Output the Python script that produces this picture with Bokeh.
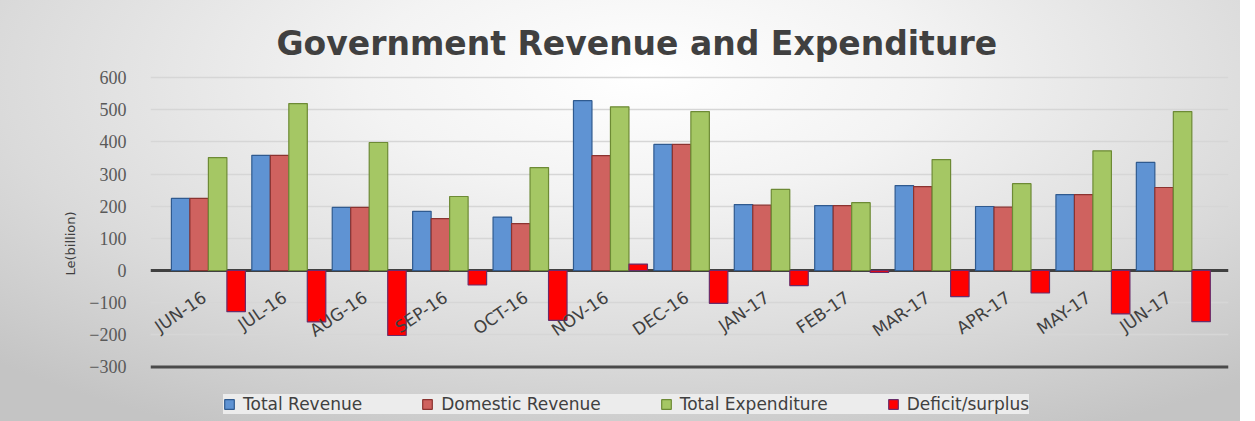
from bokeh.plotting import figure
from bokeh.models import ColumnDataSource, FixedTicker, Span, Legend, LegendItem, Range1d
from bokeh.transform import dodge
from bokeh.core.properties import value
from bokeh.embed import file_html
from bokeh.resources import INLINE

# ---- data ----
months = ["JUN-16", "JUL-16", "AUG-16", "SEP-16", "OCT-16", "NOV-16", "DEC-16",
          "JAN-17", "FEB-17", "MAR-17", "APR-17", "MAY-17", "JUN-17"]
total_revenue = [224, 358, 196, 184, 166, 528, 392, 205, 202, 264, 199, 236, 336]
domestic_revenue = [224, 358, 196, 161, 146, 357, 392, 203, 202, 261, 197, 236, 258]
total_expenditure = [351, 519, 398, 230, 320, 509, 494, 252, 211, 345, 270, 372, 494]
deficit_surplus = [-128, -160, -202, -45, -155, 20, -102, -47, -6, -81, -70, -135, -159]
series_names = ["Total Revenue", "Domestic Revenue", "Total Expenditure", "Deficit/surplus"]
y_ticks = [-300, -200, -100, 0, 100, 200, 300, 400, 500, 600]
grid_ticks = [-200, -100, 100, 200, 300, 400, 500, 600]

src = ColumnDataSource(dict(
    x=list(range(len(months))), month=months,
    tr=total_revenue, dr=domestic_revenue, te=total_expenditure, ds=deficit_surplus,
))

W, H = 1240, 421
p = figure(width=W, height=H, output_backend="svg", toolbar_location=None,
           x_range=Range1d(-0.72, 12.686), y_range=Range1d(-453.9, 621.8),
           min_border_left=150, min_border_right=12, min_border_top=70, min_border_bottom=5)

p.styles = {"background": "radial-gradient(ellipse 75% 95% at 52% 18%, #ffffff 0%, #f3f3f3 30%, #dadada 70%, #c4c4c4 100%)"}
p.border_fill_color = None
p.background_fill_color = None
p.outline_line_color = None

# title
p.title.text = "Government Revenue and Expenditure"
p.title.text_font = "DejaVu Sans"
p.title.text_font_size = "33px"
p.title.text_font_style = "bold"
p.title.text_color = "#404040"
p.title.align = "left"
p.title.offset = 126
p.title.standoff = 16

# axes
p.xaxis.visible = False
p.xgrid.visible = False
yax = p.yaxis[0]
yax.ticker = FixedTicker(ticks=y_ticks)
yax.axis_line_color = None
yax.major_tick_line_color = None
yax.minor_tick_line_color = None
yax.major_label_standoff = 18
yax.major_label_text_font = "Liberation Serif"
yax.major_label_text_font_size = "18px"
yax.major_label_text_color = "#595959"
yax.axis_label = "Le(billion)"
yax.axis_label_text_font = "DejaVu Sans"
yax.axis_label_text_font_size = "13px"
yax.axis_label_text_font_style = "normal"
yax.axis_label_text_color = "#404040"
yax.axis_label_standoff = 8

p.ygrid.ticker = FixedTicker(ticks=grid_ticks)
p.ygrid.grid_line_color = "#d6d6d6"
p.ygrid.grid_line_width = 1.5

# zero line and floor line
p.add_layout(Span(location=0, dimension="width", line_color="#404040", line_width=3, level="underlay"))
p.add_layout(Span(location=-300, dimension="width", line_color="#4a4a4a", line_width=3, level="underlay"))

bw = 0.23
styles = [
    ("tr", -0.345, "#5f93d3", "#2f5a8f"),
    ("dr", -0.115, "#cf625f", "#8b3330"),
    ("te", 0.115, "#a5c764", "#6d8a35"),
    ("ds", 0.345, "#ff0000", "#6a2c6a"),
]
renderers = []
for col, off, fill, line in styles:
    r = p.vbar(x=dodge("x", off), top=col, bottom=0, width=bw, source=src,
               fill_color=fill, line_color=line, line_width=1.2)
    renderers.append(r)

# category labels along the zero line
p.text(x="x", y=0, text="month", source=src, angle=0.6,
       text_align="right", text_baseline="middle", x_offset=-4, y_offset=25,
       text_font=value("DejaVu Sans"), text_font_size="17px", text_color="#404040")

legend = Legend(
    items=[LegendItem(label=n, renderers=[r]) for n, r in zip(series_names, renderers)],
    orientation="horizontal", location=(73, 2), padding=6, spacing=59,
    label_standoff=8, glyph_width=12, glyph_height=12,
    label_text_font="DejaVu Sans", label_text_font_size="17px", label_text_color="#404040",
    background_fill_color="#ececec", background_fill_alpha=1, border_line_color=None, margin=0,
)
p.add_layout(legend)

open("out.html", "w").write(file_html(p, INLINE))
